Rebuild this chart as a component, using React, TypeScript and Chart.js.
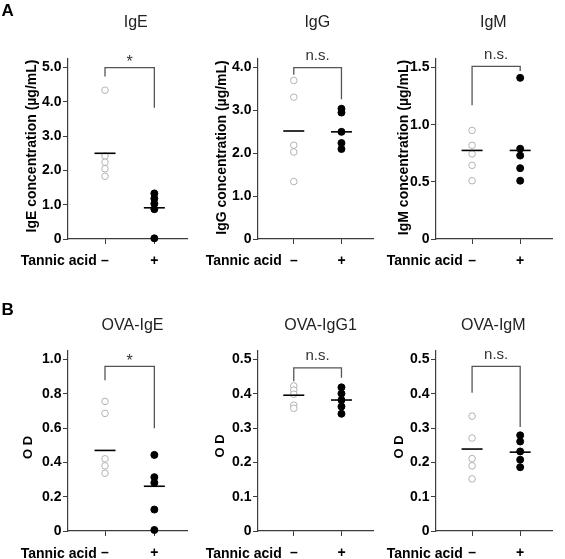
import React, { useEffect, useRef } from 'react';
import { Chart, registerables } from 'chart.js';
Chart.register(...registerables);

const FONT = '"Liberation Sans", Arial, sans-serif';

// ---------- shared labels ----------
const groupLabels = ['–', '+'];
const treatmentLabel = 'Tannic acid';

// ---------- Panel A: serum immunoglobulins (µg/mL) ----------
const igeMinus = [4.34, 2.42, 2.24, 2.05, 1.83];
const igePlus = [1.33, 1.18, 1.03, 0.87, 0.02];
const igeMeans = [2.5, 0.91];
const igeTicks = [0, 1, 2, 3, 4, 5];
const igeBracket = [5.0, 4.74, 3.83];

const iggMinus = [3.7, 3.31, 2.19, 2.03, 1.34];
const iggPlus = [3.04, 2.95, 2.5, 2.24, 2.1];
const iggMeans = [2.52, 2.5];
const iggTicks = [0, 1, 2, 3, 4];
const iggBracket = [4.0, 3.83, 3.26];

const igmMinus = [0.95, 0.82, 0.745, 0.645, 0.51];
const igmPlus = [1.41, 0.79, 0.73, 0.62, 0.51];
const igmMeans = [0.775, 0.775];
const igmTicks = [0, 0.5, 1.0, 1.5];
const igmBracket = [1.51, 1.17, 1.47];

// ---------- Panel B: OVA-specific antibodies (OD) ----------
const ovaIgeMinus = [0.756, 0.686, 0.421, 0.38, 0.337];
const ovaIgePlus = [0.444, 0.314, 0.281, 0.125, 0.006];
const ovaIgeMeans = [0.47, 0.261];
const ovaIgeTicks = [0, 0.2, 0.4, 0.6, 0.8, 1.0];
const ovaIgeBracket = [0.96, 0.88, 0.6];

const ovaIgg1Minus = [0.423, 0.411, 0.399, 0.367, 0.358];
const ovaIgg1Plus = [0.419, 0.401, 0.382, 0.363, 0.342];
const ovaIgg1Means = [0.396, 0.382];
const ovaIgg1Ticks = [0, 0.1, 0.2, 0.3, 0.4, 0.5];
const ovaIgg1Bracket = [0.476, 0.437, 0.447];

const ovaIgmMinus = [0.335, 0.271, 0.211, 0.19, 0.152];
const ovaIgmPlus = [0.279, 0.261, 0.232, 0.208, 0.186];
const ovaIgmMeans = [0.239, 0.23];
const ovaIgmTicks = [0, 0.1, 0.2, 0.3, 0.4, 0.5];
const ovaIgmBracket = [0.48, 0.403, 0.303];

// ---------- layout ----------
const cols = [
  { left: 0, width: 200, axisW: 68, padRight: 3.3 },
  { left: 200, width: 186, axisW: 58, padRight: 0.3 },
  { left: 386, width: 179, axisW: 50, padRight: 3.3 },
];
const rows = [
  { top: 0, height: 275, padTop: 59, xAxisH: 36, titleBase: 26.5, tannicBase: 265, letterBase: 16 },
  { top: 275, height: 284, padTop: 76, xAxisH: 28, titleBase: 329.8, tannicBase: 558, letterBase: 315 },
];

const panels = [
  { row: 0, col: 0, letter: 'A', title: 'IgE', yTitle: 'IgE concentration (µg/mL)', minus: igeMinus, plus: igePlus, means: igeMeans, ticks: igeTicks, yMax: 5.25, bracket: igeBracket, sig: '*', titleX: 135.7, yTitleX: 32.3, yTitleY: 146, tannicX: 20.7, yTitleSize: 14 },
  { row: 0, col: 1, letter: '', title: 'IgG', yTitle: 'IgG concentration (µg/mL)', minus: iggMinus, plus: iggPlus, means: iggMeans, ticks: iggTicks, yMax: 4.2, bracket: iggBracket, sig: 'n.s.', titleX: 317.3, yTitleX: 221.7, yTitleY: 147.5, tannicX: 205.7, yTitleSize: 14 },
  { row: 0, col: 2, letter: '', title: 'IgM', yTitle: 'IgM concentration (µg/mL)', minus: igmMinus, plus: igmPlus, means: igmMeans, ticks: igmTicks, yMax: 1.575, bracket: igmBracket, sig: 'n.s.', titleX: 493.3, yTitleX: 403.8, yTitleY: 147.5, tannicX: 386.7, yTitleSize: 14 },
  { row: 1, col: 0, letter: 'B', title: 'OVA-IgE', yTitle: 'O D', minus: ovaIgeMinus, plus: ovaIgePlus, means: ovaIgeMeans, ticks: ovaIgeTicks, yMax: 1.05, bracket: ovaIgeBracket, sig: '*', titleX: 132.5, yTitleX: 28.3, yTitleY: 447.5, tannicX: 20.7, yTitleSize: 13 },
  { row: 1, col: 1, letter: '', title: 'OVA-IgG1', yTitle: 'O D', minus: ovaIgg1Minus, plus: ovaIgg1Plus, means: ovaIgg1Means, ticks: ovaIgg1Ticks, yMax: 0.525, bracket: ovaIgg1Bracket, sig: 'n.s.', titleX: 320.5, yTitleX: 220, yTitleY: 446, tannicX: 205.7, yTitleSize: 13 },
  { row: 1, col: 2, letter: '', title: 'OVA-IgM', yTitle: 'O D', minus: ovaIgmMinus, plus: ovaIgmPlus, means: ovaIgmMeans, ticks: ovaIgmTicks, yMax: 0.525, bracket: ovaIgmBracket, sig: 'n.s.', titleX: 493.3, yTitleX: 399, yTitleY: 447, tannicX: 386.7, yTitleSize: 13 },
];

const AXIS_COLOR = '#3c3c3c';

function Panel({ p }: { p: any }) {
  const ref = useRef<HTMLCanvasElement | null>(null);
  const c = cols[p.col];
  const r = rows[p.row];

  useEffect(() => {
    const canvas = ref.current;
    if (!canvas) return;
    const ox = c.left;
    const oy = r.top;

    const overlay = {
      id: 'overlay',
      afterDraw(chart: any) {
        const ctx = chart.ctx;
        const xs = chart.scales.x;
        const ys = chart.scales.y;
        ctx.save();
        // significance bracket
        const x0 = xs.getPixelForValue(0);
        const x1 = xs.getPixelForValue(1);
        const yt = ys.getPixelForValue(p.bracket[0]);
        ctx.strokeStyle = '#555';
        ctx.lineWidth = 1.3;
        ctx.beginPath();
        ctx.moveTo(x0, ys.getPixelForValue(p.bracket[1]));
        ctx.lineTo(x0, yt);
        ctx.lineTo(x1, yt);
        ctx.lineTo(x1, ys.getPixelForValue(p.bracket[2]));
        ctx.stroke();
        // significance label
        ctx.fillStyle = '#333';
        ctx.textAlign = 'center';
        ctx.textBaseline = 'alphabetic';
        if (p.sig === '*') {
          ctx.font = `16px ${FONT}`;
          ctx.fillText('*', (x0 + x1) / 2, yt - 0.5);
        } else {
          ctx.font = `15px ${FONT}`;
          ctx.fillText(p.sig, (x0 + x1) / 2, yt - 7.5);
        }
        // panel title
        ctx.fillStyle = '#222';
        ctx.font = `16px ${FONT}`;
        ctx.fillText(p.title, p.titleX - ox, r.titleBase - oy);
        // panel letter
        if (p.letter) {
          ctx.fillStyle = '#000';
          ctx.font = `bold 17px ${FONT}`;
          ctx.textAlign = 'left';
          ctx.fillText(p.letter, 1.5 - ox, r.letterBase - oy);
        }
        // treatment label
        ctx.fillStyle = '#000';
        ctx.font = `bold 14px ${FONT}`;
        ctx.textAlign = 'left';
        ctx.fillText(treatmentLabel, p.tannicX - ox, r.tannicBase - oy);
        // y-axis title
        ctx.translate(p.yTitleX - ox, p.yTitleY - oy);
        ctx.rotate(-Math.PI / 2);
        ctx.textAlign = 'center';
        ctx.textBaseline = 'middle';
        ctx.font = `bold ${p.yTitleSize}px ${FONT}`;
        ctx.fillText(p.yTitle, 0, 0);
        ctx.restore();
      },
    };

    const chart = new Chart(canvas, {
      type: 'scatter',
      data: {
        datasets: [
          {
            label: 'mean',
            data: p.means.map((v: number, i: number) => ({ x: i, y: v })),
            pointStyle: 'line',
            pointRadius: 10.5,
            pointHoverRadius: 10.5,
            borderColor: '#000',
            backgroundColor: '#000',
            borderWidth: 1.6,
            clip: false,
            order: 0,
          },
          {
            label: 'minus',
            data: p.minus.map((v: number) => ({ x: 0, y: v })),
            pointStyle: 'circle',
            pointRadius: 3.3,
            pointHoverRadius: 3.3,
            borderColor: '#b3b3b3',
            backgroundColor: '#ffffff',
            borderWidth: 1,
            clip: false,
            order: 1,
          },
          {
            label: 'plus',
            data: p.plus.map((v: number) => ({ x: 1, y: v })),
            pointStyle: 'circle',
            pointRadius: 3.5,
            pointHoverRadius: 3.5,
            borderColor: '#000',
            backgroundColor: '#000',
            borderWidth: 1,
            clip: false,
            order: 1,
          },
        ],
      },
      options: {
        responsive: false,
        animation: false,
        devicePixelRatio: 1,
        events: [],
        layout: { padding: { top: r.padTop, right: c.padRight, left: 0, bottom: 0 } },
        plugins: { legend: { display: false }, tooltip: { enabled: false }, title: { display: false } },
        scales: {
          x: {
            type: 'linear',
            min: -0.75,
            max: 1.68,
            afterBuildTicks: (scale: any) => {
              scale.ticks = groupLabels.map((_, i) => ({ value: i }));
            },
            afterFit: (scale: any) => {
              scale.height = r.xAxisH;
            },
            ticks: {
              autoSkip: false,
              maxRotation: 0,
              minRotation: 0,
              padding: 9,
              color: '#000',
              font: { family: FONT, size: 14, weight: 'bold' },
              callback: (_v: any, i: number) => groupLabels[i],
            },
            grid: { drawOnChartArea: false, drawTicks: true, tickLength: 5, color: AXIS_COLOR, lineWidth: 1 },
            border: { display: true, color: AXIS_COLOR, width: 1.2 },
          },
          y: {
            type: 'linear',
            min: 0,
            max: p.yMax,
            afterBuildTicks: (scale: any) => {
              scale.ticks = p.ticks.map((v: number) => ({ value: v }));
            },
            afterFit: (scale: any) => {
              scale.width = c.axisW;
            },
            ticks: {
              padding: 1.5,
              color: '#000',
              font: { family: FONT, size: 14, weight: 'bold' },
              callback: (v: any) => (Number(v) === 0 ? '0' : Number(v).toFixed(1)),
            },
            grid: { drawOnChartArea: false, drawTicks: true, tickLength: 5, color: AXIS_COLOR, lineWidth: 1 },
            border: { display: true, color: AXIS_COLOR, width: 1.2 },
          },
        },
      },
      plugins: [overlay],
    } as any);
    return () => chart.destroy();
  }, []);

  return (
    <canvas
      ref={ref}
      width={c.width}
      height={r.height}
      style={{ position: 'absolute', left: c.left, top: r.top, width: c.width, height: r.height }}
    />
  );
}

export default function App() {
  return (
    <div style={{ position: 'absolute', left: 0, top: 0, width: 565, height: 559, background: '#fff', overflow: 'hidden' }}>
      {panels.map((p, i) => (
        <Panel key={i} p={p} />
      ))}
    </div>
  );
}
